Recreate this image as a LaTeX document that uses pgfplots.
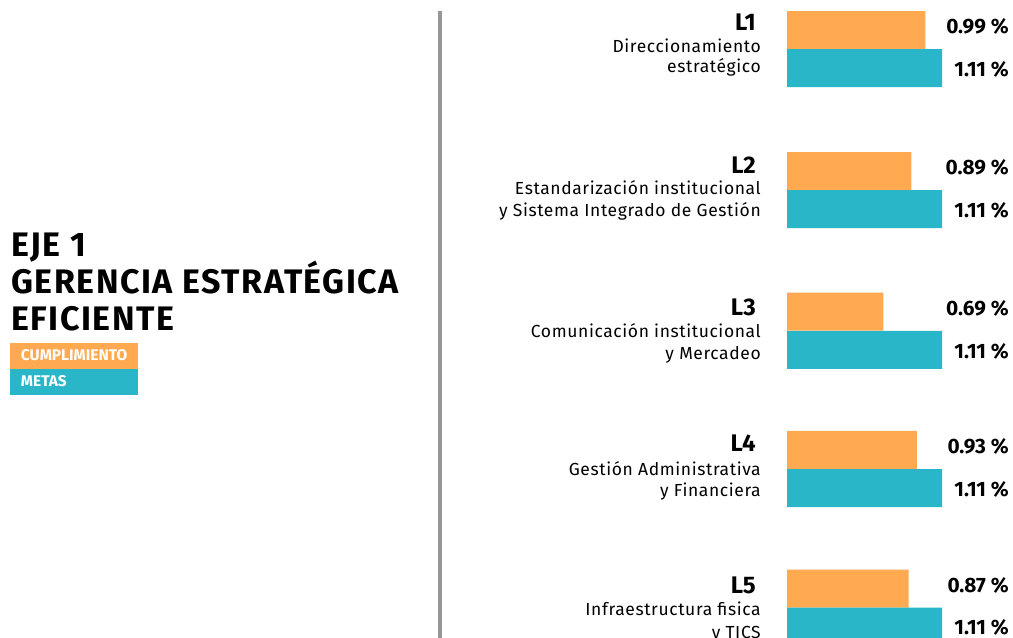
\documentclass[border=0pt]{standalone}
\usepackage{fontspec}
\setmainfont{Fira Sans}
\newfontfamily\labelfont[LetterSpace=3.5]{Fira Sans}
\newfontfamily\titlefont[LetterSpace=4.5]{Fira Sans}
\usepackage{pgfplots}
\usepackage{pgfplotstable}
\pgfplotsset{compat=1.18}
\definecolor{cump}{RGB}{255,170,80}
\definecolor{meta}{RGB}{41,182,200}
\definecolor{linea}{RGB}{150,150,150}

% posiciones verticales en px (desde arriba), valores en %
\pgfplotstableread{
linea posC   posM   cump  meta
1     30.2   68.2   0.99  1.11
2     171.0  209.2  0.89  1.11
3     311.7  349.9  0.69  1.11
4     449.9  488.0  0.93  1.11
5     588.7  626.7  0.87  1.11
}\datos

\begin{document}
\begin{tikzpicture}
\path[use as bounding box] (0,0) rectangle (759.75pt,-478.5pt);
\clip (0,0) rectangle (759.75pt,-478.5pt);
\begin{axis}[
  at={(0pt,-478.5pt)}, anchor=south west,
  scale only axis, width=759.75pt, height=478.5pt,
  xmin=-5.6359, xmax=1.6184,
  ymin=0, ymax=638, y dir=reverse,
  hide axis,
  /pgf/number format/assume math mode=true,
]
\addplot[xbar, bar width=28.5pt, bar shift=0pt, fill=cump, draw=none]
  table[x=cump, y=posC]{\datos};
\addplot[xbar, bar width=28.5pt, bar shift=0pt, fill=meta, draw=none]
  table[x=meta, y=posM]{\datos};
% etiquetas de valor
\addplot[draw=none, mark=none, point meta=explicit,
  nodes near coords={\pgfmathprintnumber[fixed,precision=2,zerofill]{\pgfplotspointmeta}~\%},
  every node near coord/.style={anchor=base east, inner sep=0pt, font=\fontsize{15.6}{18}\selectfont\bfseries}]
  table[x expr=1.5898, y expr=\thisrow{posC}+3.3, meta=cump]{\datos};
\addplot[draw=none, mark=none, point meta=explicit,
  nodes near coords={\pgfmathprintnumber[fixed,precision=2,zerofill]{\pgfplotspointmeta}~\%},
  every node near coord/.style={anchor=base east, inner sep=0pt, font=\fontsize{15.6}{18}\selectfont\bfseries}]
  table[x expr=1.5898, y expr=\thisrow{posM}+8.1, meta=meta]{\datos};
\end{axis}

\begin{scope}[x=0.75pt, y=-0.75pt, inner sep=0pt]
  % línea divisoria
  \draw[linea, line width=2.6pt] (440,11) -- (440,650);
  % título
  \begin{scope}[every node/.style={anchor=base west, font=\titlefont\fontsize{25.5}{28}\selectfont\bfseries}]
    \node at (11,256.7) {EJE 1};
    \node at (11,293.3) {GERENCIA ESTRATÉGICA};
    \node at (11,330) {EFICIENTE};
  \end{scope}
  % leyenda
  \fill[cump] (10,342.7) rectangle (138.3,368.7);
  \fill[meta] (10,368.7) rectangle (138.3,395);
  \node[anchor=base west, text=white, font=\fontsize{11.6}{13}\selectfont\bfseries] at (20.7,360) {CUMPLIMIENTO};
  \node[anchor=base west, text=white, font=\fontsize{11.6}{13}\selectfont\bfseries] at (20.7,386.7) {METAS};
  % nombres de las líneas
  \begin{scope}[every node/.style={anchor=base east, font=\labelfont\fontsize{13.1}{15}\selectfont}]
    \node[font=\fontsize{18}{20}\selectfont\bfseries] at (756,30.7) {L1};
    \node at (761,52.3) {Direccionamiento};
    \node at (761,72.3) {estratégico};
    \node[font=\fontsize{18}{20}\selectfont\bfseries] at (756,173.7) {L2};
    \node at (761,195) {Estandarización institucional};
    \node at (761,216) {y Sistema Integrado de Gestión};
    \node[font=\fontsize{18}{20}\selectfont\bfseries] at (756,315) {L3};
    \node at (761,337.3) {Comunicación institucional};
    \node at (761,359) {y Mercadeo};
    \node[font=\fontsize{18}{20}\selectfont\bfseries] at (756,451.7) {L4};
    \node at (761,475) {Gestión Administrativa};
    \node at (761,496.7) {y Financiera};
    \node[font=\fontsize{18}{20}\selectfont\bfseries] at (756,593.3) {L5};
    \node at (761,615) {Infraestructura fisica};
    \node at (761,638.5) {y TICS};
  \end{scope}
\end{scope}
\end{tikzpicture}
\end{document}
